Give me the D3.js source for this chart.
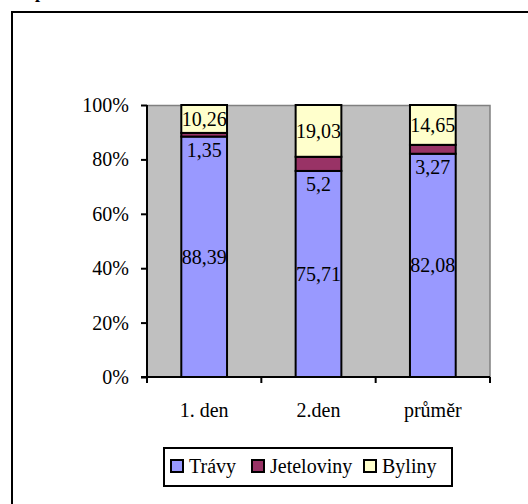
<!DOCTYPE html>
<html>
<head>
<meta charset="utf-8">
<script src="https://cdn.jsdelivr.net/npm/d3@7"></script>
<style>
  body { margin: 0; background: #fff; }
  svg text { font-family: "Liberation Serif", "Times New Roman", serif; fill: #000; }
</style>
</head>
<body>
<div id="chart"></div>
<script>
// data
let categories = ["1. den", "2.den", "průměr"];
let seriesNames = ["Trávy", "Jeteloviny", "Byliny"];
let travy = [88.39, 75.71, 82.08];
let jeteloviny = [1.35, 5.2, 3.27];
let byliny = [10.26, 19.03, 14.65];
let labelTravy = ["88,39", "75,71", "82,08"];
let labelJetel = ["1,35", "5,2", "3,27"];
let labelByliny = ["10,26", "19,03", "14,65"];
let yTicks = [0, 0.2, 0.4, 0.6, 0.8, 1];
let colors = ["#9999FF", "#993366", "#FFFFCC"];

let width = 528, height = 504;
let fontSize = "20px";
let svg = d3.select("#chart").append("svg")
    .attr("width", width)
    .attr("height", height);

// outer frame (right/bottom edges run off the picture)
svg.append("rect")
    .attr("x", 12).attr("y", 12)
    .attr("width", 530).attr("height", 500)
    .attr("fill", "none").attr("stroke", "#000").attr("stroke-width", 2);

// cut off heading above the frame
svg.append("text").attr("x", 35).attr("y", -2)
    .style("font-size", "18px").style("font-weight", "bold").text("p");

let plot = {left: 147, top: 105, right: 490, bottom: 377};

let x = d3.scaleBand()
    .domain(categories)
    .range([plot.left, plot.right])
    .paddingInner(0.6)
    .paddingOuter(0.3);

let y = d3.scaleLinear()
    .domain([0, 1])
    .range([plot.bottom, plot.top]);

// plot background
svg.append("rect")
    .attr("x", plot.left).attr("y", plot.top)
    .attr("width", plot.right - plot.left).attr("height", plot.bottom - plot.top)
    .attr("fill", "#C0C0C0");
svg.append("path")
    .attr("d", `M${plot.left},${plot.top + 0.5}H${plot.right}V${plot.bottom}`)
    .attr("fill", "none").attr("stroke", "#808080").attr("stroke-width", 1.5);

// stack the data
let rows = categories.map((c, i) => ({cat: c, "Trávy": travy[i], "Jeteloviny": jeteloviny[i], "Byliny": byliny[i]}));
let stacked = d3.stack().keys(seriesNames)
    .offset(d3.stackOffsetExpand)(rows);

stacked.forEach((layer, li) => {
    svg.append("g").selectAll("rect")
        .data(layer)
        .join("rect")
        .attr("x", d => x(d.data.cat))
        .attr("width", x.bandwidth())
        .attr("y", d => y(d[1]))
        .attr("height", d => y(d[0]) - y(d[1]))
        .attr("fill", colors[li])
        .attr("stroke", "#000")
        .attr("stroke-width", 2);
});

// data labels
let labelSets = [labelTravy, labelJetel, labelByliny];
stacked.forEach((layer, li) => {
    svg.append("g").selectAll("text")
        .data(layer)
        .join("text")
        .attr("x", d => x(d.data.cat) + x.bandwidth() / 2)
        .attr("y", d => li === 1 ? y(d[0]) + 13 : y((d[0] + d[1]) / 2))
        .attr("dy", "0.35em")
        .attr("text-anchor", "middle")
        .style("font-size", fontSize)
        .text((d, i) => labelSets[li][i]);
});

// y axis
let yAxis = svg.append("g")
    .attr("transform", `translate(${plot.left},0)`)
    .call(d3.axisLeft(y).tickValues(yTicks).tickSize(6).tickFormat(d3.format(".0%")));
yAxis.select(".domain").attr("stroke", "#000").attr("stroke-width", 2).attr("d", `M0,${plot.top}V${plot.bottom}`);
yAxis.selectAll(".tick line").attr("stroke", "#000").attr("stroke-width", 2);
yAxis.selectAll(".tick text").attr("x", -18).style("font-size", fontSize).style("font-family", "Liberation Serif");

// x axis
let xAxis = svg.append("g")
    .attr("transform", `translate(0,${plot.bottom})`)
    .call(d3.axisBottom(x).tickSize(0).tickPadding(26));
xAxis.select(".domain").remove();
xAxis.append("line")
    .attr("x1", plot.left - 6).attr("x2", plot.right)
    .attr("stroke", "#000").attr("stroke-width", 2);
let step = x.step();
let edges = [0, 1, 2, 3].map(i => plot.left + i * step);
xAxis.selectAll(".edge").data(edges).join("line")
    .attr("x1", d => d).attr("x2", d => d)
    .attr("y1", 0).attr("y2", 6)
    .attr("stroke", "#000").attr("stroke-width", 2);
xAxis.selectAll(".tick text").style("font-size", fontSize).style("font-family", "Liberation Serif");

// legend
let legend = svg.append("g");
legend.append("rect")
    .attr("x", 164).attr("y", 448)
    .attr("width", 288).attr("height", 38)
    .attr("fill", "#fff").attr("stroke", "#000").attr("stroke-width", 2);
let legendX = [171, 252, 364];
seriesNames.forEach((name, i) => {
    legend.append("rect")
        .attr("x", legendX[i]).attr("y", 460)
        .attr("width", 12).attr("height", 12)
        .attr("fill", colors[i]).attr("stroke", "#000").attr("stroke-width", 2);
    legend.append("text")
        .attr("x", legendX[i] + 18).attr("y", 473)
        .style("font-size", fontSize)
        .text(name);
});
</script>
</body>
</html>
